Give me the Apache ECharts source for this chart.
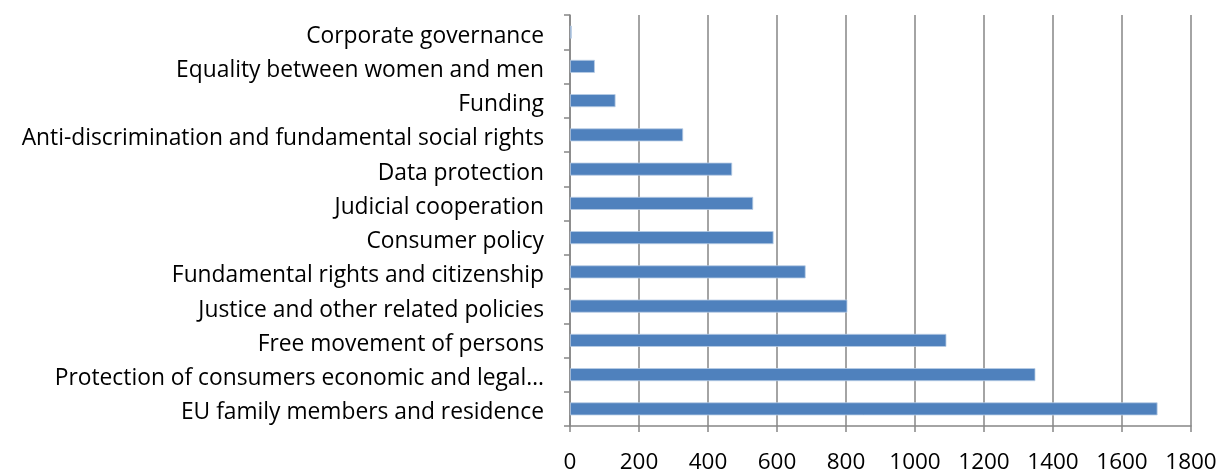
<!DOCTYPE html>
<html>
<head>
<meta charset="utf-8">
<script src="https://cdn.jsdelivr.net/npm/echarts@6/dist/echarts.min.js"></script>
<style>html,body{margin:0;padding:0;background:#fff}#c{width:1221px;height:474px}</style>
</head>
<body>
<div id="c"></div>
<script>
const categories = [
  "Corporate governance",
  "Equality between women and men",
  "Funding",
  "Anti-discrimination and fundamental social rights",
  "Data protection",
  "Judicial cooperation",
  "Consumer policy",
  "Fundamental rights and citizenship",
  "Justice and other related policies",
  "Free movement of persons",
  "Protection of consumers economic and legal…",
  "EU family members and residence"
];
const values = [5, 72, 132, 328, 470, 531, 590, 683, 804, 1091, 1349, 1703];
const xTicks = { min: 0, max: 1800, interval: 200 };

const chart = echarts.init(document.getElementById('c'), null, { renderer: 'canvas' });
const font = 'Open Sans';
chart.setOption({
  animation: false,
  backgroundColor: '#ffffff',
  grid: { left: 570, right: 30, top: 15, bottom: 44, containLabel: false },
  xAxis: {
    type: 'value',
    min: xTicks.min, max: xTicks.max, interval: xTicks.interval,
    axisLine: { show: true, lineStyle: { color: '#868686', width: 1.5 } },
    axisTick: { show: true, length: 6, lineStyle: { color: '#868686', width: 1.5 } },
    splitLine: { show: true, lineStyle: { color: '#868686', width: 1.5 } },
    axisLabel: { color: '#000', fontFamily: font, fontSize: 22.5, margin: 25, formatter: v => String(v) }
  },
  yAxis: {
    type: 'category',
    data: categories,
    inverse: true,
    axisLine: { show: true, lineStyle: { color: '#868686', width: 1.5 } },
    axisTick: { show: true, length: 6, lineStyle: { color: '#868686', width: 1.5 } },
    axisLabel: {
      color: '#000', fontFamily: font, fontSize: 22.8, margin: 26,
      formatter: v => '{a|' + v + '}',
      rich: { a: { color: '#000', fontFamily: font, fontSize: 22.8, padding: [8, 0, 0, 0] } }
    }
  },
  series: [{
    type: 'bar',
    data: values,
    barWidth: 13,
    itemStyle: { color: '#4F81BD', borderColor: '#B9CDE5', borderWidth: 0.8 }
  }]
});
</script>
</body>
</html>
